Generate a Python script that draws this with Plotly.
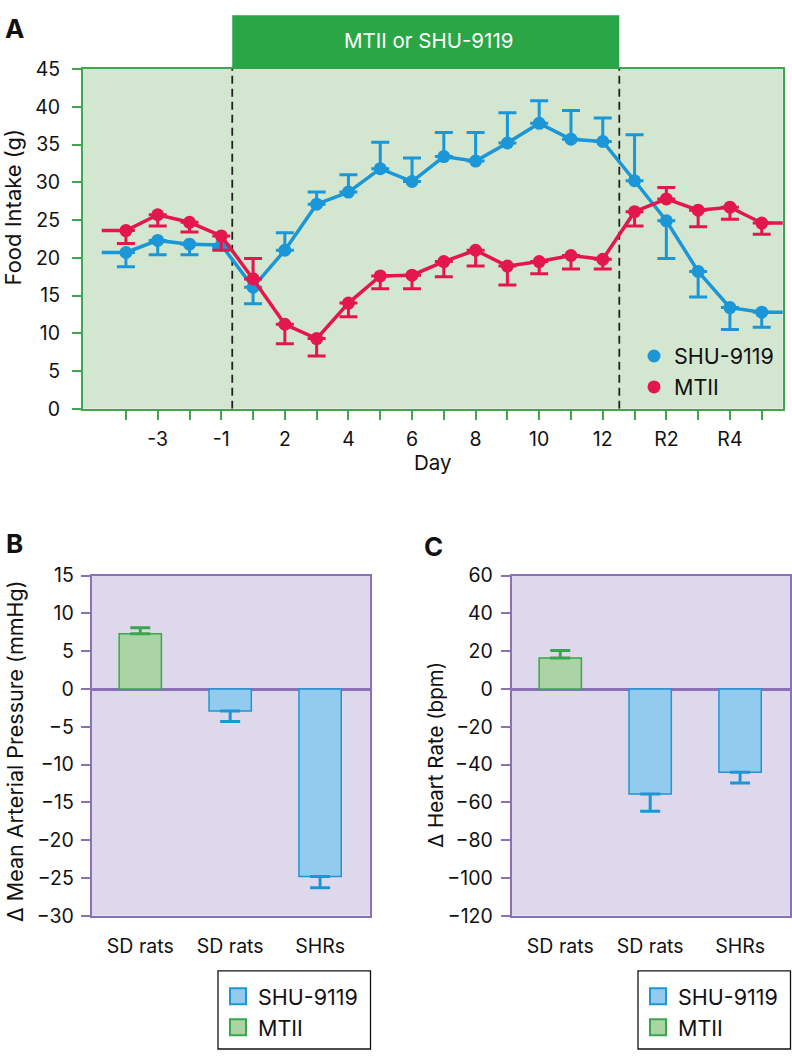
import plotly.graph_objects as go

W, H = 792, 1062


def px_x(p):
    return p / W


def px_y(p):
    return 1 - p / H


# ---------------- Data ----------------
days = ["-4", "-3", "-2", "-1", "1", "2", "3", "4", "5", "6", "7", "8",
        "9", "10", "11", "12", "R1", "R2", "R3", "R4", "R5"]
day_labels = ["", "-3", "", "-1", "", "2", "", "4", "", "6", "", "8",
              "", "10", "", "12", "", "R2", "", "R4", ""]

shu_intake = [20.7, 22.3, 21.8, 21.7, 16.1, 21.0, 27.1, 28.7, 31.8, 30.1, 33.4,
              32.8, 35.2, 37.8, 35.7, 35.4, 30.2, 24.9, 18.2, 13.4, 12.8]
shu_err = [1.9, 1.9, 1.4, 0.4, 2.2, 2.3, 1.6, 2.3, 3.5, 3.1, 3.2,
           3.8, 4.0, 3.0, 3.8, 3.1, 6.1, 5.0, 3.4, 2.9, 2.0]
shu_err_dir = [-1, -1, -1, -1, -1, 1, 1, 1, 1, 1, 1,
               1, 1, 1, 1, 1, 1, -1, -1, -1, -1]

mtii_intake = [23.6, 25.7, 24.7, 22.9, 17.2, 11.2, 9.3, 14.0, 17.6, 17.7, 19.5,
               21.0, 18.9, 19.5, 20.3, 19.8, 26.1, 27.8, 26.3, 26.7, 24.6]
mtii_err = [1.7, 1.5, 1.3, 1.9, 2.7, 2.6, 2.3, 1.8, 1.7, 1.8, 2.0,
            2.1, 2.5, 1.6, 1.8, 1.3, 1.9, 1.5, 2.2, 1.6, 1.5]
mtii_err_dir = [-1, -1, -1, -1, 1, -1, -1, -1, -1, -1, -1,
                -1, -1, -1, -1, -1, -1, 1, -1, -1, -1]

treatment_label = "MTII or SHU-9119"
treatment_start = 3.345   # between day -1 and day 1
treatment_end = 15.52     # between day 12 and R1

groups = ["SD rats", "SD rats", "SHRs"]
mtii_groups = [0]
shu_groups = [1, 2]

map_mtii = [7.3]
map_mtii_err = [0.8]
map_shu = [-2.9, -24.8]
map_shu_err = [1.4, 1.5]

hr_mtii = [16.4]
hr_mtii_err = [4.0]
hr_shu = [-55.5, -44.0]
hr_shu_err = [9.2, 5.7]

# ---------------- Styles ----------------
FONT = "Inter"
BLUE = "#1b96d6"
RED = "#e4174c"
GREEN_AX = "#3fa54e"
GREEN_BG = "#d3e6d0"
BANNER = "#2aa646"
PURPLE = "#8a70b4"
LAV_BG = "#ddd8ec"
BAR_BLUE_FILL = "#93cbee"
BAR_BLUE_EDGE = "#1d96d6"
BAR_GREEN_FILL = "#aad4a3"
BAR_GREEN_EDGE = "#3aa64b"

idx = list(range(len(days)))


def split_err(err, direction):
    up = [e if d > 0 else 0 for e, d in zip(err, direction)]
    dn = [e if d < 0 else 0 for e, d in zip(err, direction)]
    return up, dn


fig = go.Figure()

# lead-in / lead-out line stubs (series continue beyond the plotted days)
for vals, col in [(shu_intake, BLUE), (mtii_intake, RED)]:
    fig.add_trace(go.Scatter(x=[-0.76, idx[0]], y=[vals[0], vals[0]], mode="lines",
                             line=dict(color=col, width=3.5), showlegend=False,
                             hoverinfo="skip", xaxis="x", yaxis="y"))
    fig.add_trace(go.Scatter(x=[idx[-1], idx[-1] + 1], y=[vals[-1], vals[-1]], mode="lines",
                             line=dict(color=col, width=3.5), showlegend=False,
                             hoverinfo="skip", xaxis="x", yaxis="y"))

for name, vals, err, direc, col in [("SHU-9119", shu_intake, shu_err, shu_err_dir, BLUE),
                                     ("MTII", mtii_intake, mtii_err, mtii_err_dir, RED)]:
    up, dn = split_err(err, direc)
    fig.add_trace(go.Scatter(
        x=idx, y=vals, mode="lines+markers", name=name, showlegend=False,
        line=dict(color=col, width=3.5),
        marker=dict(color=col, size=13),
        error_y=dict(type="data", symmetric=False, array=up, arrayminus=dn,
                     color=col, thickness=3, width=9),
        xaxis="x", yaxis="y", cliponaxis=False))

# legend entries for panel A
for name, col in [("SHU-9119", BLUE), ("MTII", RED)]:
    fig.add_trace(go.Scatter(x=[None], y=[None], mode="markers", name=name,
                             marker=dict(color=col, size=13), legend="legend",
                             xaxis="x", yaxis="y"))

# panel B and C bars
for xa, ya, mt, mte, sh, she, lg in [("x2", "y2", map_mtii, map_mtii_err, map_shu, map_shu_err, "legend2"),
                                     ("x3", "y3", hr_mtii, hr_mtii_err, hr_shu, hr_shu_err, "legend3")]:
    fig.add_trace(go.Bar(
        x=mtii_groups, y=mt, width=0.47, name="MTII", showlegend=False,
        marker=dict(color=BAR_GREEN_FILL, line=dict(color=BAR_GREEN_EDGE, width=1.5)),
        error_y=dict(type="data", symmetric=False, array=mte, arrayminus=[0] * len(mte),
                     color=BAR_GREEN_EDGE, thickness=3, width=10),
        xaxis=xa, yaxis=ya))
    fig.add_trace(go.Bar(
        x=shu_groups, y=sh, width=0.47, name="SHU-9119", showlegend=False,
        marker=dict(color=BAR_BLUE_FILL, line=dict(color=BAR_BLUE_EDGE, width=1.5)),
        error_y=dict(type="data", symmetric=False, array=[0] * len(she), arrayminus=she,
                     color=BAR_BLUE_EDGE, thickness=3, width=10),
        xaxis=xa, yaxis=ya))
    fig.add_trace(go.Scatter(x=[None], y=[None], mode="markers", name="SHU-9119",
                             marker=dict(symbol="square", size=16, color=BAR_BLUE_FILL,
                                         line=dict(color=BAR_BLUE_EDGE, width=2)),
                             legend=lg, xaxis=xa, yaxis=ya))
    fig.add_trace(go.Scatter(x=[None], y=[None], mode="markers", name="MTII",
                             marker=dict(symbol="square", size=16, color=BAR_GREEN_FILL,
                                         line=dict(color=BAR_GREEN_EDGE, width=2)),
                             legend=lg, xaxis=xa, yaxis=ya))

tickfont = dict(family=FONT, size=19.5, color="#111")
legfont = dict(family=FONT, size=21.5, color="#111")

fig.update_layout(
    width=W, height=H, autosize=False,
    margin=dict(l=0, r=0, t=0, b=0),
    paper_bgcolor="white", plot_bgcolor="rgba(0,0,0,0)",
    font=dict(family=FONT, size=19, color="#111"),
    barmode="overlay",
    xaxis=dict(domain=[px_x(83), px_x(782.7)], range=[-1.35, 20.66],
               tickmode="array", tickvals=idx, ticktext=day_labels,
               ticks="outside", ticklen=9, tickwidth=2, tickcolor=GREEN_AX,
               showline=True, linecolor=GREEN_AX, linewidth=2, mirror=True,
               showgrid=False, zeroline=False, tickfont=tickfont, ticklabelstandoff=3,
               anchor="y"),
    yaxis=dict(domain=[px_y(406), px_y(58.3)], range=[0, 45], dtick=5,
               ticks="outside", ticklen=9, tickwidth=2, tickcolor=GREEN_AX,
               showline=True, linecolor=GREEN_AX, linewidth=2, mirror=True,
               showgrid=False, zeroline=False, tickfont=tickfont, ticklabelstandoff=8,
               anchor="x"),
    xaxis2=dict(domain=[px_x(91.7), px_x(370)], range=[-0.54, 2.555],
                tickmode="array", tickvals=[0, 1, 2], ticktext=groups, ticks="",
                showline=True, linecolor=PURPLE, linewidth=2, mirror=True,
                showgrid=False, zeroline=False, tickfont=tickfont, ticklabelstandoff=12,
                anchor="y2"),
    yaxis2=dict(domain=[px_y(924.7), px_y(576.7)], range=[-30, 15], dtick=5,
                ticks="outside", ticklen=9, tickwidth=2, tickcolor=PURPLE,
                showline=True, linecolor=PURPLE, linewidth=2, mirror=True,
                showgrid=False, zeroline=True, zerolinecolor=PURPLE, zerolinewidth=2.5,
                tickfont=tickfont, ticklabelstandoff=3, anchor="x2"),
    xaxis3=dict(domain=[px_x(511.7), px_x(790)], range=[-0.54, 2.555],
                tickmode="array", tickvals=[0, 1, 2], ticktext=groups, ticks="",
                showline=True, linecolor=PURPLE, linewidth=2, mirror=True,
                showgrid=False, zeroline=False, tickfont=tickfont, ticklabelstandoff=12,
                anchor="y3"),
    yaxis3=dict(domain=[px_y(924.7), px_y(576.7)], range=[-120, 60], dtick=20,
                ticks="outside", ticklen=9, tickwidth=2, tickcolor=PURPLE,
                showline=True, linecolor=PURPLE, linewidth=2, mirror=True,
                showgrid=False, zeroline=True, zerolinecolor=PURPLE, zerolinewidth=2.5,
                tickfont=tickfont, ticklabelstandoff=4, anchor="x3"),
    legend=dict(x=px_x(634), xanchor="left", y=px_y(331), yanchor="top",
                bgcolor="rgba(0,0,0,0)", borderwidth=0,
                font=legfont, tracegroupgap=0),
    legend2=dict(x=px_x(218), xanchor="left", y=px_y(986), yanchor="top",
                 bgcolor="rgba(0,0,0,0)", borderwidth=0,
                 font=legfont, tracegroupgap=0),
    legend3=dict(x=px_x(638), xanchor="left", y=px_y(986), yanchor="top",
                 bgcolor="rgba(0,0,0,0)", borderwidth=0,
                 font=legfont, tracegroupgap=0),
)

shapes = [
    # plot backgrounds
    dict(type="rect", xref="x domain", yref="y domain", x0=0, x1=1, y0=0, y1=1,
         fillcolor=GREEN_BG, line=dict(width=0), layer="below"),
    dict(type="rect", xref="x2 domain", yref="y2 domain", x0=0, x1=1, y0=0, y1=1,
         fillcolor=LAV_BG, line=dict(width=0), layer="below"),
    dict(type="rect", xref="x3 domain", yref="y3 domain", x0=0, x1=1, y0=0, y1=1,
         fillcolor=LAV_BG, line=dict(width=0), layer="below"),
    # treatment period boundaries
    dict(type="line", xref="x", yref="y", x0=treatment_start, x1=treatment_start, y0=0, y1=45,
         line=dict(color="#222", width=1.8, dash="8px,5px"), layer="below"),
    dict(type="line", xref="x", yref="y", x0=treatment_end, x1=treatment_end, y0=0, y1=45,
         line=dict(color="#222", width=1.8, dash="8px,5px"), layer="below"),
    # treatment banner
    dict(type="rect", xref="x", yref="paper", x0=treatment_start, x1=treatment_end,
         y0=px_y(58.3), y1=px_y(3.3), fillcolor=BANNER, line=dict(width=0)),
    # legend boxes for B and C
    dict(type="rect", xref="paper", yref="paper", x0=px_x(218), x1=px_x(370.5),
         y0=px_y(1061), y1=px_y(981), line=dict(color="#111", width=1.3),
         fillcolor="rgba(0,0,0,0)"),
    dict(type="rect", xref="paper", yref="paper", x0=px_x(638), x1=px_x(790.5),
         y0=px_y(1061), y1=px_y(981), line=dict(color="#111", width=1.3),
         fillcolor="rgba(0,0,0,0)"),
]
fig.update_layout(shapes=shapes)

ann = []


def add_text(text, x, y, size, xanchor="center", yanchor="middle", angle=0, color="#111", bold=False):
    ann.append(dict(text=f"<b>{text}</b>" if bold else text, xref="paper", yref="paper",
                    x=px_x(x), y=px_y(y), xanchor=xanchor, yanchor=yanchor,
                    textangle=angle, showarrow=False,
                    font=dict(family=FONT, size=size, color=color)))


add_text("A", 3, 17, 26, xanchor="left", bold=True)
add_text("B", 4, 544, 26, xanchor="left", bold=True)
add_text("C", 422, 547, 26, xanchor="left", bold=True)
add_text(treatment_label, 429, 29, 20.5, color="white")
add_text("Food Intake (g)", 13, 200, 22, angle=-90)
add_text("Day", 433, 461, 20.5)
add_text("Δ Mean Arterial Pressure (mmHg)", 15, 756, 21.5, angle=-90)
add_text("Δ Heart Rate (bpm)", 436, 760, 20.5, angle=-90)
fig.update_layout(annotations=ann)

fig.write_html("out.html", config={"displayModeBar": False},
               post_script="document.body.style.margin='0';document.body.style.overflow='hidden';")
